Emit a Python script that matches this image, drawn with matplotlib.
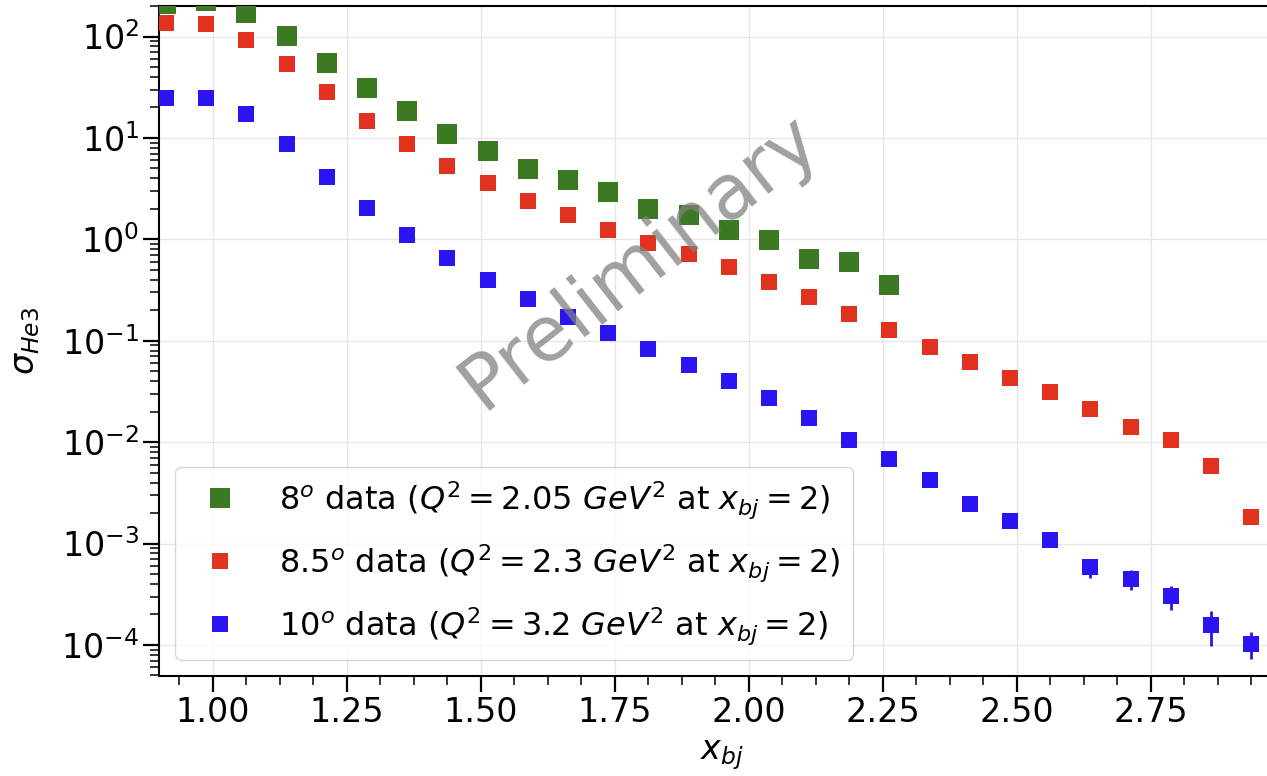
import matplotlib
matplotlib.use("Agg")
import matplotlib.pyplot as plt
from matplotlib.lines import Line2D
import numpy as np
from matplotlib.ticker import AutoMinorLocator, LogLocator

# ---- data ----
x_all = [0.9125, 0.9875, 1.0625, 1.1375, 1.2125, 1.2875, 1.3625, 1.4375,
         1.5125, 1.5875, 1.6625, 1.7375, 1.8125, 1.8875, 1.9625, 2.0375,
         2.1125, 2.1875, 2.2625, 2.3375, 2.4125, 2.4875, 2.5625, 2.6375,
         2.7125, 2.7875, 2.8625, 2.9375]

x_8deg = x_all[:19]
sigma_8deg = [209, 226, 170, 102, 55, 31.4, 18.5, 11.0, 7.4, 4.98, 3.82,
              2.93, 1.98, 1.74, 1.245, 0.99, 0.644, 0.60, 0.354]

x_85deg = x_all
sigma_85deg = [137, 133, 92.7, 53.3, 28.5, 14.7, 8.67, 5.33, 3.57, 2.40, 1.74,
               1.24, 0.93, 0.71, 0.53, 0.381, 0.267, 0.184, 0.128, 0.0868,
               0.0622, 0.0434, 0.0313, 0.0210, 0.01426, 0.0106, 0.00582, 0.00184]

x_10deg = x_all
sigma_10deg = [25.0, 25.0, 17.4, 8.73, 4.09, 2.05, 1.10, 0.648, 0.396, 0.257,
               0.172, 0.120, 0.0832, 0.0583, 0.0405, 0.0273, 0.0173, 0.0106,
               0.00689, 0.00421, 0.00248, 0.00168, 0.00109, 5.82e-4, 4.50e-4,
               3.03e-4, 1.58e-4, 1.03e-4]
err_10deg = [0, 0, 0, 0, 0, 0, 0, 0, 0, 0, 0, 0, 0, 0, 0, 0, 0, 0, 0, 0,
             0.00005, 0.00008, 0.0001, 1.2e-4, 1.0e-4, 0.8e-4, 0.6e-4, 0.3e-4]

labels = [r"8$^o$ data ($Q^2 = 2.05\ GeV^2$ at $x_{bj} = 2$)",
          r"8.5$^o$ data ($Q^2 = 2.3\ GeV^2$ at $x_{bj} = 2$)",
          r"10$^o$ data ($Q^2 = 3.2\ GeV^2$ at $x_{bj} = 2$)"]
colors = ["#3b7a22", "#e0321f", "#2b14f2"]
msizes = [13.7, 12, 12]

W, H = 1267, 776
fig = plt.figure(figsize=(W / 100, H / 100), dpi=100)
ax = fig.add_axes([159.3 / W, 100.5 / H, (1284.7 - 159.3) / W, (770 - 100.5) / H])

ax.errorbar(x_8deg, sigma_8deg, fmt="s", color=colors[0], ms=msizes[0], mew=0,
            zorder=3)
ax.errorbar(x_85deg, sigma_85deg, fmt="s", color=colors[1], ms=msizes[1], mew=0,
            zorder=3)
ax.errorbar(x_10deg, sigma_10deg, yerr=err_10deg, fmt="s", color=colors[2],
            ms=msizes[2], mew=0, elinewidth=2, capsize=0, zorder=3)

ax.set_yscale("log")
ax.set_xlim(0.9, 3.0)
ax.set_ylim(5e-5, 200)
ax.set_xticks([1.0, 1.25, 1.5, 1.75, 2.0, 2.25, 2.5, 2.75])
ax.set_xticklabels(["1.00", "1.25", "1.50", "1.75", "2.00", "2.25", "2.50", "2.75"])
ax.xaxis.set_minor_locator(AutoMinorLocator(4))
ax.yaxis.set_major_locator(LogLocator(base=10, numticks=20))
ax.yaxis.set_minor_locator(LogLocator(base=10, subs=np.arange(2, 10), numticks=20))

ax.tick_params(which="major", direction="out", length=11.5, width=1.6,
               labelsize=24, pad=3)
ax.tick_params(which="minor", direction="out", length=6.5, width=1.1)
for s in ax.spines.values():
    s.set_linewidth(1.5)

ax.grid(True, which="major", color="#e6e6e6", linewidth=1.0, zorder=0)
ax.set_axisbelow(True)

ax.set_xlabel(r"$x_{bj}$", fontsize=24, labelpad=7)
ax.set_ylabel(r"$\sigma_{He3}$", fontsize=24, labelpad=14)

handles = [Line2D([], [], linestyle="none", marker="s", color=c, ms=m, mew=0)
           for c, m in zip(colors, msizes)]
ax.legend(handles, labels, loc="lower left", fontsize=23, handletextpad=0.85,
          labelspacing=0.68)

ax.text(0.427, 0.618, "Preliminary", transform=ax.transAxes, fontsize=55,
        color="gray", alpha=0.75, rotation=38, ha="center", va="center",
        rotation_mode="anchor", zorder=5)

fig.savefig("out.png", dpi=100)
